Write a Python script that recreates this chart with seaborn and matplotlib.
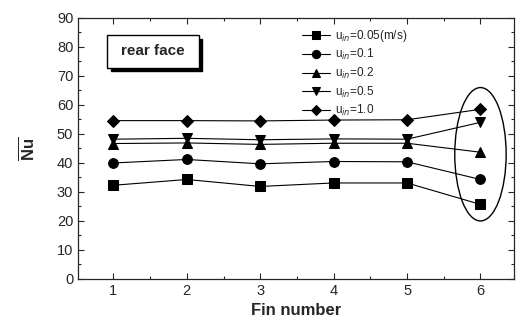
import matplotlib
matplotlib.use("Agg")
import matplotlib.pyplot as plt
import seaborn as sns
import pandas as pd
from matplotlib.patches import Ellipse, Rectangle

fins = [1, 2, 3, 4, 5, 6]
u_labels = ["0.05(m/s)", "0.1", "0.2", "0.5", "1.0"]
nu_005 = [32.3, 34.3, 31.9, 33.1, 33.1, 25.7]
nu_01 = [40.0, 41.2, 39.7, 40.5, 40.4, 34.3]
nu_02 = [46.7, 46.9, 46.4, 46.8, 46.8, 43.7]
nu_05 = [48.2, 48.5, 48.0, 48.3, 48.2, 54.0]
nu_10 = [54.6, 54.6, 54.5, 54.8, 54.9, 58.5]
markers = ["s", "o", "^", "v", "D"]

sns.set_style("ticks")
plt.rcParams["font.family"] = ["Liberation Sans", "DejaVu Sans"]
plt.rcParams["mathtext.fontset"] = "custom"
plt.rcParams["mathtext.rm"] = "Liberation Sans"
plt.rcParams["mathtext.bf"] = "Liberation Sans:bold"

fig = plt.figure(figsize=(5.21, 3.27), dpi=100)
ax = fig.add_axes([0.150, 0.147, 0.837, 0.798])

series = [nu_005, nu_01, nu_02, nu_05, nu_10]
for vals, lab, m in zip(series, u_labels, markers):
    df = pd.DataFrame({"fin": fins, "nu": vals})
    ms = 6 if m == "D" else 7
    sns.lineplot(data=df, x="fin", y="nu", ax=ax, color="black", lw=0.8,
                 marker=m, markersize=ms, markeredgecolor="black",
                 label=r"u$_{in}$=" + lab)

ax.add_patch(Ellipse((6.0, 43), 0.7, 46, fill=False, ec="black", lw=1.0))

# "rear face" box with drop shadow
ax.add_patch(Rectangle((0.075, 0.795), 0.21, 0.125, transform=ax.transAxes,
                       fc="black", ec="black", zorder=4))
ax.add_patch(Rectangle((0.066, 0.81), 0.21, 0.125, transform=ax.transAxes,
                       fc="white", ec="black", lw=1.0, zorder=5))
ax.text(0.171, 0.872, "rear face", transform=ax.transAxes, ha="center",
        va="center", fontsize=11, fontweight="bold", zorder=6)

ax.set_xlim(0.52, 6.46)
ax.set_ylim(0, 90)
ax.set_xticks(fins)
ax.set_yticks(range(0, 91, 10))
ax.set_xticks([1.5, 2.5, 3.5, 4.5, 5.5], minor=True)
ax.set_yticks(range(5, 90, 10), minor=True)
ax.tick_params(which="both", direction="in", top=True, right=True,
               labelsize=10.5, width=0.8)
ax.tick_params(which="major", length=4)
ax.tick_params(which="minor", length=2)
for s in ax.spines.values():
    s.set_linewidth(0.9)

ax.set_xlabel("Fin number", fontsize=12, fontweight="bold")
ax.set_ylabel(r"$\overline{\mathbf{Nu}}$", fontsize=12, labelpad=14)

ax.legend(loc="upper left", bbox_to_anchor=(0.5, 0.985), frameon=False,
          fontsize=8.5, handlelength=2.4, labelspacing=0.3, borderpad=0,
          handletextpad=0.4, markerscale=0.85)

fig.savefig("out.png", dpi=100)
